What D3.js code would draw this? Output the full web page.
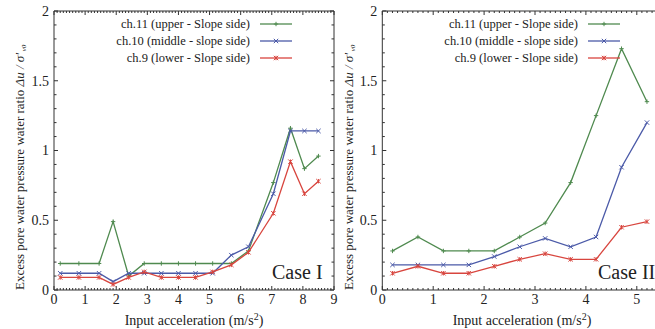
<!DOCTYPE html>
<html>
<head>
<meta charset="utf-8">
<script src="https://cdn.jsdelivr.net/npm/d3@7"></script>
<style>
  html, body { margin: 0; padding: 0; background: #fff; }
  svg { display: block; font-family: "Liberation Serif", "Times New Roman", serif; }
</style>
</head>
<body>
<svg id="chart" width="655" height="329"></svg>
<script>
// ---- data ----
const seriesNames = ["ch.11  (upper - Slope side)", "ch.10 (middle - slope side)", "ch.9  (lower - Slope side)"];
const seriesColors = ["#4f8a4f", "#4b5aa8", "#d8453e"];
const seriesMarkers = ["plus", "cross", "star"];

const xCase1 = [0.2, 0.8, 1.45, 1.9, 2.4, 2.9, 3.45, 4.0, 4.55, 5.1, 5.7, 6.25, 7.05, 7.6, 8.05, 8.5];
const ch11Case1 = [0.19, 0.19, 0.19, 0.49, 0.10, 0.19, 0.19, 0.19, 0.19, 0.19, 0.19, 0.28, 0.77, 1.16, 0.87, 0.96];
const ch10Case1 = [0.12, 0.12, 0.12, 0.06, 0.12, 0.12, 0.12, 0.12, 0.12, 0.12, 0.25, 0.31, 0.69, 1.14, 1.14, 1.14];
const ch9Case1  = [0.09, 0.09, 0.09, 0.04, 0.09, 0.13, 0.09, 0.09, 0.09, 0.13, 0.18, 0.27, 0.55, 0.92, 0.69, 0.78];

const xCase2 = [0.2, 0.7, 1.2, 1.7, 2.2, 2.7, 3.2, 3.7, 4.2, 4.7, 5.2];
const ch11Case2 = [0.28, 0.38, 0.28, 0.28, 0.28, 0.38, 0.48, 0.77, 1.25, 1.73, 1.35];
const ch10Case2 = [0.18, 0.18, 0.18, 0.18, 0.24, 0.31, 0.37, 0.31, 0.38, 0.88, 1.20];
const ch9Case2  = [0.12, 0.17, 0.12, 0.12, 0.17, 0.22, 0.26, 0.22, 0.22, 0.45, 0.49];

const yTicks = [0, 0.5, 1, 1.5, 2];
const yTickLabels = ["0", "0.5", "1", "1.5", "2"];
const xTicksCase1 = [0, 1, 2, 3, 4, 5, 6, 7, 8, 9];
const xTicksCase2 = [0, 1, 2, 3, 4, 5];

const svg = d3.select("#chart");
const axisColor = "#333";

function markerPath(type, s) {
  if (type === "plus") return `M${-s},0H${s}M0,${-s}V${s}`;
  if (type === "cross") return `M${-s},${-s}L${s},${s}M${-s},${s}L${s},${-s}`;
  return `M${-s},${-s}L${s},${s}M${-s},${s}L${s},${-s}M0,${-s}V${s}`;
}

function drawPanel(opt) {
  const g = svg.append("g");
  const x = d3.scaleLinear().domain(opt.xDomain).range(opt.xRange);
  const y = d3.scaleLinear().domain([0, 2]).range([290, 11]);
  const [X0, X1] = opt.xRange;
  const [Y0, Y1] = y.range();

  // frame
  const frame = g.append("g").attr("stroke", axisColor).attr("stroke-width", 1).attr("fill", "none");
  frame.append("line").attr("x1", X0).attr("x2", X1).attr("y1", Y0).attr("y2", Y0);
  frame.append("line").attr("x1", X0).attr("x2", X1).attr("y1", Y1).attr("y2", Y1);
  frame.append("line").attr("x1", X0).attr("x2", X0).attr("y1", Y0).attr("y2", Y1);
  if (opt.rightBorder) frame.append("line").attr("x1", X1).attr("x2", X1).attr("y1", Y0).attr("y2", Y1);

  // minor & major ticks (inward)
  const xMinor = d3.range(0, opt.xDomain[1] + 1e-9, 0.1);
  xMinor.forEach(v => {
    const major = Math.abs(v - Math.round(v)) < 1e-6;
    const len = major ? 4 : 2;
    const px = x(v);
    frame.append("line").attr("x1", px).attr("x2", px).attr("y1", Y0).attr("y2", Y0 - len);
    frame.append("line").attr("x1", px).attr("x2", px).attr("y1", Y1).attr("y2", Y1 + len);
  });
  const yMinor = d3.range(0, 2 + 1e-9, 0.1);
  yMinor.forEach(v => {
    const major = Math.abs(v * 2 - Math.round(v * 2)) < 1e-6;
    const len = major ? 4 : 2.5;
    const py = y(v);
    frame.append("line").attr("x1", X0).attr("x2", X0 + len).attr("y1", py).attr("y2", py);
    if (opt.rightBorder) frame.append("line").attr("x1", X1).attr("x2", X1 - len).attr("y1", py).attr("y2", py);
  });

  // tick labels
  g.selectAll(".xl").data(opt.xTicks).join("text")
    .attr("x", d => x(d)).attr("y", 304).attr("text-anchor", "middle")
    .attr("font-size", 14).attr("fill", "#222").text(d => d);
  g.selectAll(".yl").data(yTicks).join("text")
    .attr("x", X0 - 5).attr("y", d => y(d)).attr("dy", "0.34em").attr("text-anchor", "end")
    .attr("font-size", 14).attr("fill", "#222").text((d, i) => yTickLabels[i]);

  // axis titles
  const xt = g.append("text").attr("x", opt.xTitleX).attr("y", 325).attr("text-anchor", "middle")
    .attr("font-size", 14).attr("fill", "#222");
  xt.append("tspan").text("Input acceleration (m/s");
  xt.append("tspan").attr("dy", -5).attr("font-size", 10).text("2");
  xt.append("tspan").attr("dy", 5).text(")");

  const yt = g.append("text").attr("transform", `translate(${opt.yTitleX},290) rotate(-90)`)
    .attr("text-anchor", "start").attr("font-size", 13).attr("fill", "#222");
  yt.append("tspan").text("Excess pore water pressure water ratio  ");
  yt.append("tspan").attr("font-style", "italic").text("\u0394u / \u03c3'");
  yt.append("tspan").attr("font-style", "italic").attr("font-size", 7).attr("dy", 2).text(" v0");

  // series
  opt.series.forEach((vals, si) => {
    const pts = vals.map((v, i) => [opt.xs[i], v]);
    g.append("path").datum(pts)
      .attr("fill", "none").attr("stroke", seriesColors[si]).attr("stroke-width", 1.3)
      .attr("d", d3.line().x(d => x(d[0])).y(d => y(d[1])));
    g.selectAll(null).data(pts).join("path")
      .attr("transform", d => `translate(${x(d[0])},${y(d[1])})`)
      .attr("d", markerPath(seriesMarkers[si], 2.2))
      .attr("stroke", seriesColors[si]).attr("stroke-width", 1).attr("fill", "none");
  });

  // legend
  seriesNames.forEach((name, i) => {
    const cy = 24 + i * 17;
    g.append("text").attr("x", opt.legendX).attr("y", cy).attr("dy", "0.33em")
      .attr("text-anchor", "end").attr("font-size", 12.5).attr("fill", "#222").text(name);
    g.append("line").attr("x1", opt.legendX + 10).attr("x2", opt.legendX + 42)
      .attr("y1", cy).attr("y2", cy).attr("stroke", seriesColors[i]).attr("stroke-width", 1.3);
    g.append("path").attr("transform", `translate(${opt.legendX + 26},${cy})`)
      .attr("d", markerPath(seriesMarkers[i], 2.2))
      .attr("stroke", seriesColors[i]).attr("stroke-width", 1).attr("fill", "none");
  });

  // case label
  g.append("text").attr("x", opt.caseX).attr("y", 279).attr("text-anchor", "start")
    .attr("font-size", 20).attr("fill", "#222").text(opt.caseLabel);
}

drawPanel({
  xDomain: [0, 9], xRange: [54, 334], xTicks: xTicksCase1, xs: xCase1,
  series: [ch11Case1, ch10Case1, ch9Case1], rightBorder: true,
  legendX: 250, caseX: 272, caseLabel: "Case I", xTitleX: 194, yTitleX: 24
});
drawPanel({
  xDomain: [0, 5.5], xRange: [382.3, 382.3 + 50.9 * 5.5], xTicks: xTicksCase2, xs: xCase2,
  series: [ch11Case2, ch10Case2, ch9Case2], rightBorder: false,
  legendX: 578, caseX: 598, caseLabel: "Case II", xTitleX: 522, yTitleX: 353
});
</script>
</body>
</html>
